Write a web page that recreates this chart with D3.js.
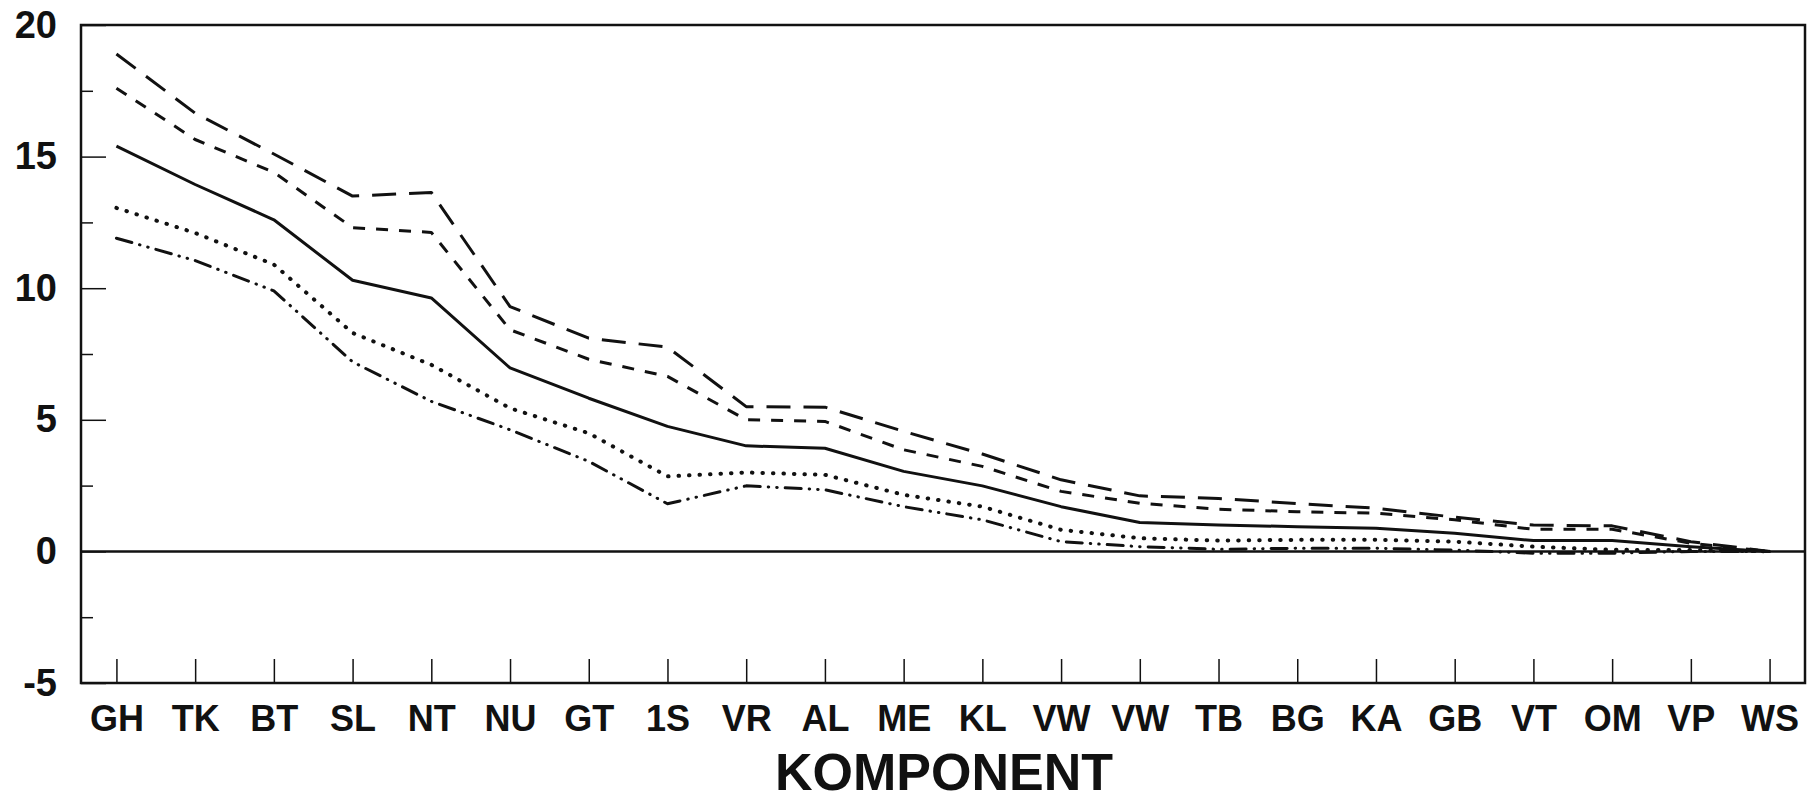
<!DOCTYPE html>
<html>
<head>
<meta charset="utf-8">
<script src="https://cdn.jsdelivr.net/npm/d3@7"></script>
<style>
  body { margin: 0; background: #fff; }
  text { font-family: "Liberation Sans", Arial, Helvetica, sans-serif; font-weight: bold; fill: #111; }
</style>
</head>
<body>
<div id="plot"></div>
<script>
// ---- data ----
var components = ["GH", "TK", "BT", "SL", "NT", "NU", "GT", "1S", "VR", "AL", "ME",
                  "KL", "VW", "VW", "TB", "BG", "KA", "GB", "VT", "OM", "VP", "WS"];

var longDash  = [18.9, 16.65, 15.1, 13.5, 13.64, 9.3, 8.1, 7.76, 5.5, 5.48, 4.56,
                 3.7, 2.72, 2.11, 2.01, 1.82, 1.64, 1.3, 1.0, 0.97, 0.37, 0];
var shortDash = [17.6, 15.65, 14.4, 12.3, 12.12, 8.42, 7.3, 6.65, 5.0, 4.94, 3.86,
                 3.23, 2.28, 1.83, 1.6, 1.51, 1.45, 1.2, 0.84, 0.84, 0.31, 0];
var solid     = [15.4, 13.94, 12.6, 10.3, 9.63, 6.97, 5.82, 4.75, 4.01, 3.92, 3.04,
                 2.49, 1.7, 1.1, 1.0, 0.94, 0.88, 0.69, 0.41, 0.41, 0.18, 0];
var dotted    = [13.05, 12.1, 10.9, 8.3, 7.09, 5.44, 4.49, 2.85, 3.0, 2.91, 2.15,
                 1.7, 0.82, 0.5, 0.41, 0.44, 0.44, 0.37, 0.18, 0.06, 0.05, 0];
var dashDot   = [11.9, 11.05, 9.9, 7.2, 5.7, 4.62, 3.42, 1.81, 2.49, 2.34, 1.7,
                 1.2, 0.37, 0.18, 0.08, 0.12, 0.12, 0.05, -0.07, -0.07, 0, 0];

var yMajorTicks = [-5, 0, 5, 10, 15, 20];
var yMinorTicks = [-2.5, 2.5, 7.5, 12.5, 17.5];
var xTitle = "KOMPONENT";

// ---- workspace ----
var svgWidth = 1807;
var svgHeight = 801;
var margin = { top: 25, right: 2, bottom: 118, left: 81 };
var width = svgWidth - margin.left - margin.right;
var height = svgHeight - margin.top - margin.bottom;

var svg = d3.select("#plot")
    .append("svg")
    .attr("width", svgWidth)
    .attr("height", svgHeight);

var chartGroup = svg.append("g")
    .attr("transform", `translate(${margin.left}, ${margin.top})`);

// ---- scales and axes ----
var xScale = d3.scalePoint()
    .domain(d3.range(components.length))
    .range([0, width])
    .padding(0.45);

var yScale = d3.scaleLinear()
    .domain([-5, 20])
    .range([height, 0]);

var bottomAxis = d3.axisBottom(xScale)
    .tickSizeInner(-24)
    .tickSizeOuter(0)
    .tickPadding(22)
    .tickFormat(i => components[i]);

// plain hyphen for the minus sign, as in the original
var leftAxis = d3.axisLeft(yScale)
    .tickValues(yMajorTicks)
    .tickSizeInner(-25)
    .tickSizeOuter(0)
    .tickPadding(24)
    .tickFormat(v => String(v));

var leftMinor = d3.axisLeft(yScale)
    .tickValues(yMinorTicks)
    .tickSizeInner(-12)
    .tickSizeOuter(0)
    .tickFormat("");

var xAxisG = chartGroup.append("g")
    .attr("transform", `translate(0, ${height})`)
    .call(bottomAxis);
xAxisG.select(".domain").remove();
xAxisG.selectAll("line").attr("stroke", "#111").attr("stroke-width", 1.5);
xAxisG.selectAll("text").attr("font-size", "36px");

var yAxisG = chartGroup.append("g").call(leftAxis);
yAxisG.select(".domain").remove();
yAxisG.selectAll("line").attr("stroke", "#111").attr("stroke-width", 1.5);
yAxisG.selectAll("text").attr("font-size", "38px");

var yMinorG = chartGroup.append("g").call(leftMinor);
yMinorG.select(".domain").remove();
yMinorG.selectAll("line").attr("stroke", "#111").attr("stroke-width", 1.5);

// frame + zero line
chartGroup.append("rect")
    .attr("x", 0)
    .attr("y", 0)
    .attr("width", width)
    .attr("height", height)
    .attr("fill", "none")
    .attr("stroke", "#111")
    .attr("stroke-width", 2.5);

chartGroup.append("line")
    .attr("x1", 0)
    .attr("x2", width)
    .attr("y1", yScale(0))
    .attr("y2", yScale(0))
    .attr("stroke", "#111")
    .attr("stroke-width", 2.5);

// ---- the five lines ----
var series = [
    { values: longDash,  dash: "24,13", cap: "butt" },
    { values: shortDash, dash: "12,11", cap: "butt" },
    { values: solid,     dash: null,    cap: "butt" },
    { values: dotted,    dash: "0.5,10", cap: "round", w: 4 },
    { values: dashDot,   dash: "16,8,0.5,8,0.5,8", cap: "round" }
];

var line = d3.line()
    .x((d, i) => xScale(i))
    .y(d => yScale(d));

chartGroup.selectAll(".series")
    .data(series)
    .enter()
    .append("path")
    .attr("class", "series")
    .attr("d", s => line(s.values))
    .attr("fill", "none")
    .attr("stroke", "#111")
    .attr("stroke-width", s => s.w || 3)
    .attr("stroke-linecap", s => s.cap)
    .attr("stroke-linejoin", "round")
    .attr("stroke-dasharray", s => s.dash);

// ---- x title ----
chartGroup.append("text")
    .attr("x", width / 2 + 1)
    .attr("y", height + 107)
    .attr("text-anchor", "middle")
    .attr("font-size", "52px")
    .text(xTitle);
</script>
</body>
</html>
